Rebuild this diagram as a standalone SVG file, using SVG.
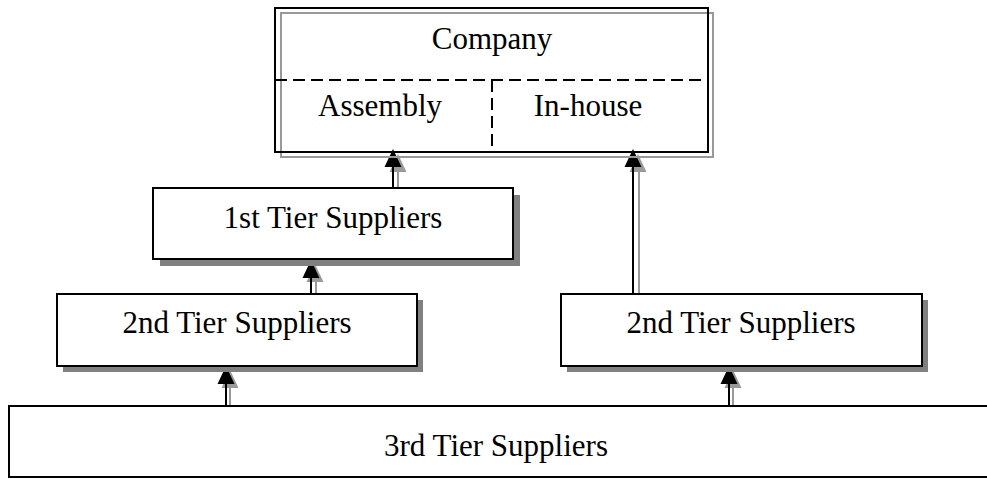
<svg xmlns="http://www.w3.org/2000/svg" width="987" height="479" viewBox="0 0 987 479">
  <style>
    .box { fill: #ffffff; stroke: #000000; stroke-width: 2; }
    .shadow { fill: #808080; stroke: none; }
    .frame { fill: none; stroke: #000000; stroke-width: 2; }
    .frame-shadow { fill: none; stroke: #999999; stroke-width: 2; }
    .divider { fill: none; stroke: #000000; stroke-width: 2; stroke-dasharray: 12 6; }
    .label { font-family: "Liberation Serif", "Times New Roman", serif; font-size: 31px; fill: #000000; text-anchor: middle; }
    .link { stroke: #000000; stroke-width: 2; fill: none; }
    .link-shadow { stroke: #999999; stroke-width: 2; fill: none; }
    .head { fill: #000000; }
    .head-shadow { fill: #999999; }
  </style>
  <defs>
    <!-- arrowhead with its tip at the origin, pointing up -->
    <path id="tip" d="M0,0 L8.5,18 L-8.5,18 Z"/>
  </defs>

  <!-- connectors sit underneath the boxes -->
  <g id="connectors">
    <!-- 1st tier -> Assembly -->
    <g>
      <line class="link-shadow" x1="398" y1="170" x2="398" y2="188"/>
      <use href="#tip" class="head-shadow" x="398" y="154"/>
      <line class="link" x1="393" y1="166" x2="393" y2="188"/>
      <use href="#tip" class="head" x="393" y="149"/>
    </g>
    <!-- 2nd tier (right) -> In-house -->
    <g>
      <line class="link-shadow" x1="639" y1="170" x2="639" y2="299"/>
      <use href="#tip" class="head-shadow" x="638" y="154"/>
      <line class="link" x1="633" y1="166" x2="633" y2="294"/>
      <use href="#tip" class="head" x="633" y="149"/>
    </g>
    <!-- 2nd tier (left) -> 1st tier -->
    <g>
      <line class="link-shadow" x1="316" y1="280" x2="316" y2="294"/>
      <use href="#tip" class="head-shadow" x="315" y="264"/>
      <line class="link" x1="311" y1="276" x2="311" y2="294"/>
      <use href="#tip" class="head" x="311" y="260"/>
    </g>
    <!-- 3rd tier -> 2nd tier (left) -->
    <g>
      <line class="link-shadow" x1="230" y1="388" x2="230" y2="406"/>
      <use href="#tip" class="head-shadow" x="230" y="370"/>
      <line class="link" x1="226" y1="384" x2="226" y2="406"/>
      <use href="#tip" class="head" x="226" y="366"/>
    </g>
    <!-- 3rd tier -> 2nd tier (right) -->
    <g>
      <line class="link-shadow" x1="733" y1="388" x2="733" y2="406"/>
      <use href="#tip" class="head-shadow" x="733" y="370"/>
      <line class="link" x1="729" y1="384" x2="729" y2="406"/>
      <use href="#tip" class="head" x="729" y="366"/>
    </g>
  </g>

  <g id="company">
    <rect class="frame-shadow" x="281" y="13" width="432" height="144"/>
    <rect class="frame" x="275" y="8" width="433" height="144"/>
    <line class="divider" x1="275" y1="80" x2="708" y2="80"/>
    <line class="divider" x1="492" y1="80" x2="492" y2="152"/>
    <text class="label" x="492" y="49">Company</text>
    <text class="label" x="380" y="116">Assembly</text>
    <text class="label" x="588" y="116">In-house</text>
  </g>

  <g id="tier1">
    <rect class="shadow" x="160" y="195" width="360" height="71"/>
    <rect class="box" x="153" y="188" width="360" height="71"/>
    <text class="label" x="333" y="228">1st Tier Suppliers</text>
  </g>

  <g id="tier2-left">
    <rect class="shadow" x="63" y="300" width="360" height="72"/>
    <rect class="box" x="57" y="294" width="360" height="72"/>
    <text class="label" x="237" y="333">2nd Tier Suppliers</text>
  </g>

  <g id="tier2-right">
    <rect class="shadow" x="567" y="300" width="361" height="72"/>
    <rect class="box" x="561" y="294" width="361" height="72"/>
    <text class="label" x="741" y="333">2nd Tier Suppliers</text>
  </g>

  <g id="tier3">
    <rect class="box" x="9" y="406" width="1000" height="71"/>
    <text class="label" x="496" y="456">3rd Tier Suppliers</text>
  </g>
</svg>
